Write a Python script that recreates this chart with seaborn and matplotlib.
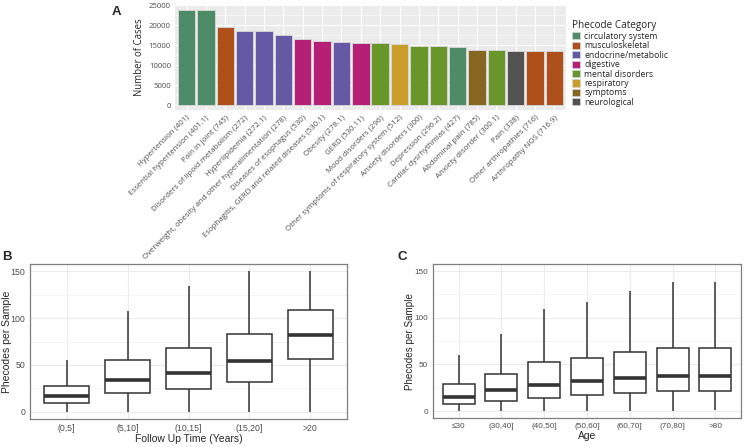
import numpy as np
import pandas as pd
import matplotlib
matplotlib.use('Agg')
import matplotlib.pyplot as plt
from matplotlib.patches import Patch
from matplotlib.ticker import MultipleLocator
import seaborn as sns

# ---- Panel A data: top phecodes by number of cases ----
phecodes = [
    'Hypertension (401)', 'Essential hypertension (401.1)', 'Pain in joint (745)',
    'Disorders of lipoid metabolism (272)', 'Hyperlipidemia (272.1)',
    'Overweight, obesity and other hyperalimentation (278)', 'Diseases of esophagus (530)',
    'Esophagitis, GERD and related diseases (530.1)', 'Obesity (278.1)', 'GERD (530.11)',
    'Mood disorders (296)', 'Other symptoms of respiratory system (512)',
    'Anxiety disorders (300)', 'Depression (296.2)', 'Cardiac dysrhythmias (427)',
    'Abdominal pain (785)', 'Anxiety disorder (300.1)', 'Pain (338)',
    'Other arthropathies (716)', 'Arthropathy NOS (716.9)',
]
cases = [23800, 23750, 19650, 18550, 18550, 17650, 16550, 16000, 15800, 15550,
         15500, 15400, 14900, 14900, 14550, 13900, 13800, 13550, 13500, 13500]
phe_cat = ['circulatory system', 'circulatory system', 'musculoskeletal',
           'endocrine/metabolic', 'endocrine/metabolic', 'endocrine/metabolic',
           'digestive', 'digestive', 'endocrine/metabolic', 'digestive',
           'mental disorders', 'respiratory', 'mental disorders', 'mental disorders',
           'circulatory system', 'symptoms', 'mental disorders', 'neurological',
           'musculoskeletal', 'musculoskeletal']
cat_order = ['circulatory system', 'musculoskeletal', 'endocrine/metabolic', 'digestive',
             'mental disorders', 'respiratory', 'symptoms', 'neurological']
cat_colors = ['#4E8B67', '#AF501B', '#6558A4', '#B61F76',
              '#69962A', '#CB9E2B', '#87661F', '#525252']

# ---- Panel B data: box stats (min, q1, median, q3, max) by follow up time ----
follow_groups = ['(0,5]', '(5,10]', '(10,15]', '(15,20]', '>20']
follow_stats = [
    [0, 10, 17, 28, 55],
    [0, 20, 34, 55, 107],
    [0, 24, 42, 68, 134],
    [0, 32, 54, 83, 150],
    [0, 56, 82, 109, 150],
]

# ---- Panel C data: box stats by age ----
age_groups = ['≤30', '(30,40]', '(40,50]', '(50,60]', '(60,70]', '(70,80]', '>80']
age_stats = [
    [0, 8, 15, 29, 60],
    [0, 11, 22, 40, 83],
    [0, 14, 28, 52, 109],
    [0, 17, 32, 57, 117],
    [0, 19, 35, 63, 129],
    [0, 21, 37, 68, 138],
    [1, 21, 37, 68, 138],
]

sns.set_theme(style='white')
plt.rcParams['font.family'] = ['Liberation Sans', 'DejaVu Sans']

fig = plt.figure(figsize=(7.48, 4.47), dpi=100)
W, H = 748, 447


def px_axes(left, top, right, bottom):
    return fig.add_axes([left / W, 1 - bottom / H, (right - left) / W, (bottom - top) / H])


# ================= Panel A =================
axA = px_axes(175, 5, 566, 110)
dfA = pd.DataFrame({'phecode': phecodes, 'cases': cases, 'category': phe_cat})
sns.barplot(data=dfA, x='phecode', y='cases', hue='category', hue_order=cat_order,
            palette=dict(zip(cat_order, cat_colors)), dodge=False, width=0.9,
            saturation=1, edgecolor='#D4D4D4', linewidth=0.7, legend=False,
            ax=axA, zorder=3)
axA.set_facecolor('#EBEBEB')
axA.set_xlim(-0.6, len(phecodes) - 0.4)
axA.set_ylim(-1190, 25100)
axA.yaxis.set_major_locator(MultipleLocator(5000))
axA.yaxis.set_minor_locator(MultipleLocator(2500))
axA.grid(which='major', color='white', linewidth=0.8, zorder=0)
axA.grid(which='minor', axis='y', color='white', linewidth=0.4, zorder=0)
axA.set_axisbelow(True)
for s in axA.spines.values():
    s.set_visible(False)
axA.tick_params(axis='both', which='major', length=2, width=0.5, color='#555555',
                labelcolor='#4D4D4D', pad=1)
axA.tick_params(axis='y', which='minor', length=0)
axA.tick_params(axis='y', labelsize=5.6)
axA.set_xticks(range(len(phecodes)))
axA.set_xticklabels(phecodes, rotation=45, ha='right', rotation_mode='anchor',
                    fontsize=5.7, family=['Open Sans', 'DejaVu Sans'])
for lab in axA.get_yticklabels():
    lab.set_family(['Open Sans', 'DejaVu Sans'])
axA.set_xlabel('')
axA.set_ylabel('Number of Cases', fontsize=6.9, family=['Open Sans', 'DejaVu Sans'], labelpad=3)

handles = [Patch(facecolor=c, edgecolor='#D4D4D4', linewidth=0.5) for c in cat_colors]
leg = fig.legend(handles, cat_order, title='Phecode Category', loc='upper left',
                 bbox_to_anchor=(569 / W, 1 - 17 / H), frameon=False,
                 prop={'family': ['Open Sans', 'DejaVu Sans'], 'size': 6.2},
                 handlelength=0.9, handleheight=0.9, labelspacing=0.05,
                 handletextpad=0.5, borderaxespad=0)
leg.get_title().set_fontsize(7.2)
leg.get_title().set_family(['Open Sans', 'DejaVu Sans'])
leg._legend_box.align = 'left'
fig.text(112 / W, 1 - 15 / H, 'A', fontsize=9.5, fontweight='bold', family=['Liberation Sans'])


# ================= Panels B and C =================
def box_panel(ax, groups, stats, xlabel, tick_size, label_size, ylab_x):
    rows = []
    for g, st in zip(groups, stats):
        for v in st:
            rows.append({'group': g, 'value': v})
    df = pd.DataFrame(rows)
    sns.boxplot(data=df, x='group', y='value', order=groups, whis=(0, 100), width=0.75,
                color='white', linecolor='#333333', linewidth=1.1, showfliers=False,
                showcaps=False, medianprops={'linewidth': 2.6, 'color': '#333333'},
                ax=ax, zorder=3)
    ax.set_xlim(-0.6, len(groups) - 0.4)
    ax.set_ylim(-7.5, 157.5)
    ax.yaxis.set_major_locator(MultipleLocator(50))
    ax.yaxis.set_minor_locator(MultipleLocator(25))
    ax.grid(which='major', color='#EBEBEB', linewidth=0.8, zorder=0)
    ax.grid(which='minor', axis='y', color='#F2F2F2', linewidth=0.5, zorder=0)
    ax.set_axisbelow(True)
    for s in ax.spines.values():
        s.set_visible(True)
        s.set_color('#7F7F7F')
        s.set_linewidth(0.9)
    ax.tick_params(axis='both', which='major', length=2, width=0.5, color='#333333',
                   labelcolor='#4D4D4D', labelsize=tick_size, pad=1.5)
    ax.tick_params(axis='y', which='minor', length=0)
    ax.set_xlabel(xlabel, fontsize=label_size, labelpad=1)
    ax.set_ylabel('Phecodes per Sample', fontsize=label_size)
    ax.yaxis.set_label_coords(ylab_x, 0.5)


axB = px_axes(30, 264, 347, 419)
box_panel(axB, follow_groups, follow_stats, 'Follow Up Time (Years)', 6.3, 7.5, -0.057)
fig.text(2 / W, 1 - 260 / H, 'B', fontsize=9.5, fontweight='bold')

axC = px_axes(433, 264, 741, 418)
box_panel(axC, age_groups, age_stats, 'Age', 5.9, 7.1, -0.058)
axC.xaxis.label.set_size(7.4)
fig.text(398 / W, 1 - 260 / H, 'C', fontsize=9.5, fontweight='bold')

fig.savefig('out.png', dpi=100)
